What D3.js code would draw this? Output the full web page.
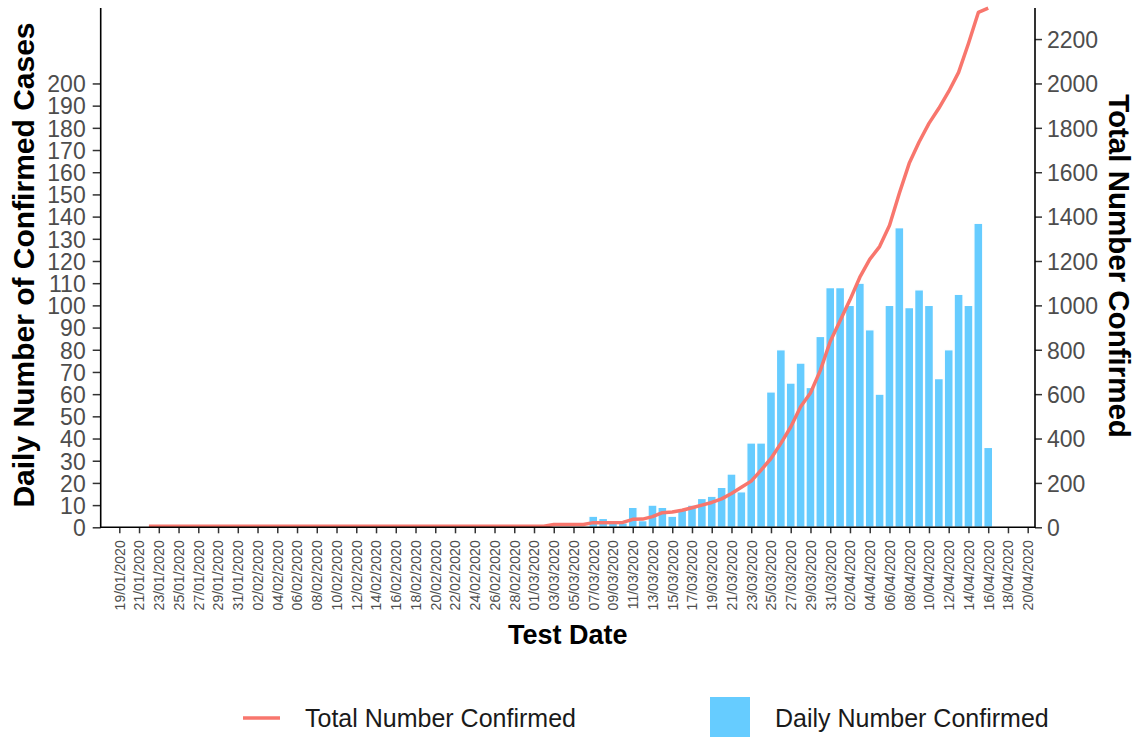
<!DOCTYPE html>
<html lang="en">
<head>
  <meta charset="utf-8">
  <title>Confirmed cases</title>
  <script src="https://d3js.org/d3.v7.min.js"></script>
  <style>
  body { margin: 0; background: #fff; }
  text { font-family: "Liberation Sans", Arial, sans-serif; }
  .bar { fill: #66CCFF; stroke: #fff; stroke-width: 1.3px; }
  .total { fill: none; stroke: #F8766D; stroke-width: 3.5px; stroke-linejoin: round; }
  .axis text { fill: #4D4D4D; }
  .axis line { stroke: #333; stroke-width: 1.5px; }
  </style>
</head>
<body>
<script>
  var width = 1140;
  var height = 738;

  var tickLabels = ["19/01/2020","21/01/2020","23/01/2020","25/01/2020","27/01/2020","29/01/2020","31/01/2020",
    "02/02/2020","04/02/2020","06/02/2020","08/02/2020","10/02/2020","12/02/2020","14/02/2020","16/02/2020",
    "18/02/2020","20/02/2020","22/02/2020","24/02/2020","26/02/2020","28/02/2020",
    "01/03/2020","03/03/2020","05/03/2020","07/03/2020","09/03/2020","11/03/2020","13/03/2020","15/03/2020",
    "17/03/2020","19/03/2020","21/03/2020","23/03/2020","25/03/2020","27/03/2020","29/03/2020","31/03/2020",
    "02/04/2020","04/04/2020","06/04/2020","08/04/2020","10/04/2020","12/04/2020","14/04/2020","16/04/2020",
    "18/04/2020","20/04/2020"];

  var leftTicks = [0,10,20,30,40,50,60,70,80,90,100,110,120,130,140,150,160,170,180,190,200];
  var rightTicks = [0,200,400,600,800,1000,1200,1400,1600,1800,2000,2200];

  // daily confirmed (bars)
  var dailyDates = ["07/03/2020","08/03/2020","09/03/2020","10/03/2020","11/03/2020","12/03/2020","13/03/2020",
    "14/03/2020","15/03/2020","16/03/2020","17/03/2020","18/03/2020","19/03/2020","20/03/2020","21/03/2020",
    "22/03/2020","23/03/2020","24/03/2020","25/03/2020","26/03/2020","27/03/2020","28/03/2020","29/03/2020",
    "30/03/2020","31/03/2020","01/04/2020","02/04/2020","03/04/2020","04/04/2020","05/04/2020","06/04/2020",
    "07/04/2020","08/04/2020","09/04/2020","10/04/2020","11/04/2020","12/04/2020","13/04/2020","14/04/2020",
    "15/04/2020","16/04/2020"];
  var dailyValues = [5,4,2,2,9,3,10,
    9,5,8,10,13,14,18,24,
    16,38,38,61,80,65,74,63,
    86,108,108,100,110,89,60,100,
    135,99,107,100,67,80,105,100,
    137,36];

  // running total (line, right axis)
  var totalDates = ["22/01/2020","02/03/2020","03/03/2020","06/03/2020","07/03/2020","10/03/2020",
    "11/03/2020","12/03/2020","13/03/2020","14/03/2020","15/03/2020","16/03/2020","17/03/2020","18/03/2020",
    "19/03/2020","20/03/2020","21/03/2020","22/03/2020","23/03/2020","24/03/2020","25/03/2020","26/03/2020",
    "27/03/2020","28/03/2020","29/03/2020","30/03/2020","31/03/2020",
    "01/04/2020","02/04/2020","03/04/2020","04/04/2020","05/04/2020","06/04/2020","07/04/2020","08/04/2020",
    "09/04/2020","10/04/2020","11/04/2020","12/04/2020","13/04/2020","14/04/2020","15/04/2020","16/04/2020"];
  var totalValues = [5,5,13,13,21,22,
    36,37,48,66,69,77,88,100,
    112,128,152,180,208,258,310,378,
    452,543,605,707,837,
    931,1025,1127,1207,1265,1360,1505,1640,
    1736,1820,1888,1964,2050,2180,2320,2339];

  var parse = d3.utcParse("%d/%m/%Y");
  var fmt = d3.utcFormat("%d/%m/%Y");

  var plotLeft = 100.7, plotRight = 1035, plotTop = 8, plotBottom = 527.3;

  var svg = d3.select("body")
    .append("svg")
    .attr("width", width)
    .attr("height", height);

  var x = d3.scaleUtc()
    .domain([parse("19/01/2020"), parse("20/04/2020")])
    .range([119.3, 1027.7]);

  var y = d3.scaleLinear().domain([0, 234]).range([plotBottom, plotTop]);
  var yRight = d3.scaleLinear().domain([0, 2340]).range([plotBottom, plotTop]);

  var dayWidth = x(parse("02/01/2020")) - x(parse("01/01/2020"));
  var bw = dayWidth * 0.9;

  var bars = dailyDates.map(function(d, i){ return {date: parse(d), value: dailyValues[i]}; });
  var totals = totalDates.map(function(d, i){ return {date: parse(d), value: totalValues[i]}; });

  svg.append("g")
    .selectAll("rect")
    .data(bars)
    .enter().append("rect")
      .attr("class", "bar")
      .attr("x", function(d){ return x(d.date) - bw/2; })
      .attr("y", function(d){ return y(d.value); })
      .attr("width", bw)
      .attr("height", function(d){ return plotBottom - y(d.value); });

  var line = d3.line()
    .x(function(d){ return x(d.date); })
    .y(function(d){ return yRight(d.value); });

  svg.append("path")
    .datum(totals)
    .attr("class", "total")
    .attr("d", line);

  // axes
  var gLeft = svg.append("g")
    .attr("class", "axis")
    .attr("transform", "translate(" + plotLeft + ",0)")
    .call(d3.axisLeft(y).tickValues(leftTicks).tickSize(8).tickPadding(7));
  gLeft.select(".domain").remove();
  gLeft.selectAll("text").attr("font-size", 23).attr("dy", "0.36em");

  var gRight = svg.append("g")
    .attr("class", "axis")
    .attr("transform", "translate(" + plotRight + ",0)")
    .call(d3.axisRight(yRight).tickValues(rightTicks).tickFormat(d3.format("d")).tickSize(7).tickPadding(5));
  gRight.select(".domain").remove();
  gRight.selectAll("text").attr("font-size", 23).attr("dy", "0.36em");

  var gBottom = svg.append("g")
    .attr("class", "axis")
    .attr("transform", "translate(0," + plotBottom + ")")
    .call(d3.axisBottom(x).tickValues(tickLabels.map(parse)).tickFormat(fmt).tickSize(6));
  gBottom.select(".domain").remove();
  gBottom.selectAll("text")
    .attr("font-size", 14)
    .attr("transform", "rotate(-90)")
    .attr("text-anchor", "end")
    .attr("x", -13)
    .attr("y", 0)
    .attr("dy", "0.35em");

  // axis lines
  svg.append("path")
    .attr("d", "M" + plotLeft + "," + plotTop + "V" + plotBottom + "H" + plotRight + "V" + plotTop)
    .attr("fill", "none")
    .attr("stroke", "#000")
    .attr("stroke-width", 1.6);

  // titles
  svg.append("text")
    .attr("transform", "translate(34,265) rotate(-90)")
    .attr("text-anchor", "middle")
    .attr("font-size", 30)
    .attr("font-weight", "bold")
    .text("Daily Number of Confirmed Cases");

  svg.append("text")
    .attr("transform", "translate(1109,266) rotate(90)")
    .attr("text-anchor", "middle")
    .attr("font-size", 29.5)
    .attr("font-weight", "bold")
    .text("Total Number Confirmed");

  svg.append("text")
    .attr("x", (plotLeft + plotRight) / 2)
    .attr("y", 644)
    .attr("text-anchor", "middle")
    .attr("font-size", 27)
    .attr("font-weight", "bold")
    .text("Test Date");

  // legend
  var legend = svg.append("g");
  legend.append("line")
    .attr("x1", 243).attr("x2", 280)
    .attr("y1", 718).attr("y2", 718)
    .attr("stroke", "#F8766D")
    .attr("stroke-width", 3.5);
  legend.append("text")
    .attr("x", 305).attr("y", 718).attr("dy", "0.36em")
    .attr("font-size", 25)
    .attr("fill", "#1A1A1A")
    .text("Total Number Confirmed");
  legend.append("rect")
    .attr("x", 710).attr("y", 697)
    .attr("width", 40).attr("height", 40)
    .attr("fill", "#66CCFF");
  legend.append("text")
    .attr("x", 775).attr("y", 718).attr("dy", "0.36em")
    .attr("font-size", 25)
    .attr("fill", "#1A1A1A")
    .text("Daily Number Confirmed");
</script>
</body>
</html>
